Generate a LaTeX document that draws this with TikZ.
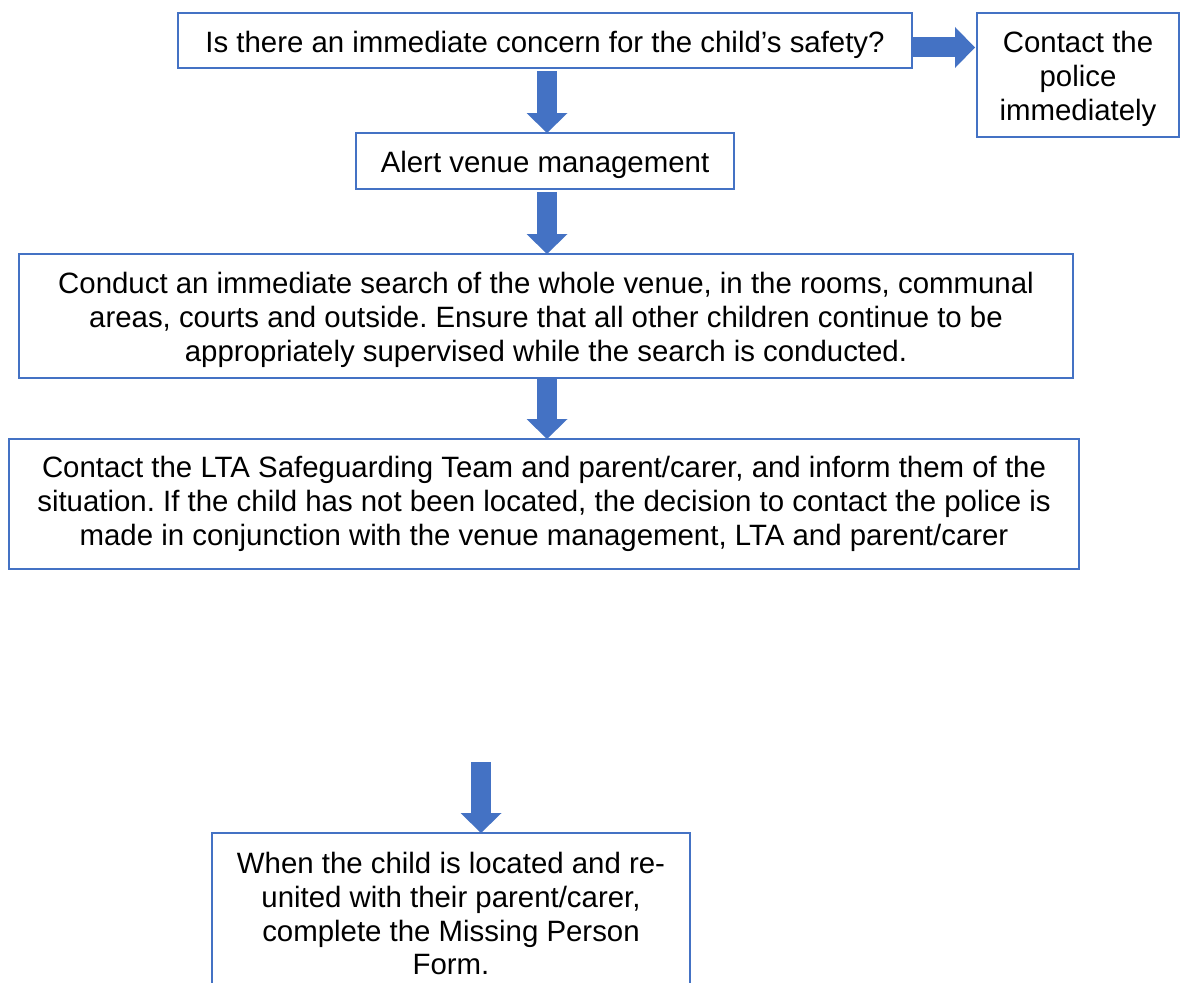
\documentclass[tikz,border=0pt]{standalone}
\usepackage{fontspec}
\setmainfont{Liberation Sans}
\usetikzlibrary{arrows.meta,calc}
\definecolor{obl}{HTML}{4472C4}
\newcommand\tstrut{\rule{0pt}{29.5pt}}
\frenchspacing
\begin{document}
\begin{tikzpicture}[x=1pt,y=-1pt,
  box/.style={draw=obl, line width=2pt, inner sep=0pt, outer sep=0pt,
    align=center, anchor=north west, font=\fontsize{29.4}{33.8}\selectfont},
  barrow/.style={draw=obl, line width=20pt,
    -{Triangle[width=41pt,length=20pt,line width=0pt,fill=obl]}}]
\useasboundingbox (0,0) rectangle (1185,982);
\fill[white] (0,0) rectangle (1185,982);
\clip (0,0) rectangle (1185,982);

\node[box, minimum width=734pt, minimum height=55pt] (b1) at (178,13)
  {\tstrut Is there an immediate concern for the child’s safety?};
\node[box, minimum width=202pt, minimum height=124pt] (police) at (977,13)
  {\tstrut Contact the\\police\\immediately};
\node[box, minimum width=378pt, minimum height=56pt] (b2) at (356,133)
  {\tstrut Alert venue management};
\node[box, minimum width=1054pt, minimum height=124pt] (b3) at (19,254)
  {\tstrut Conduct an immediate search of the whole venue, in the rooms, communal\\
   areas, courts and outside. Ensure that all other children continue to be\\
   appropriately supervised while the search is conducted.};
\node[box, minimum width=1070pt, minimum height=130pt] (b4) at (9,439)
  {Contact the LTA Safeguarding Team and parent/carer, and inform them of the\\
   situation. If the child has not been located, the decision to contact the police is\\
   made in conjunction with the venue management, LTA and parent/carer};
\node[box, anchor=north, minimum width=478pt, inner ysep=11pt] (b5) at (451,833)
  {\tstrut When the child is located and re-\\
   united with their parent/carer,\\
   complete the Missing Person\\
   Form.};

\coordinate (r1) at ($(b1.east)+(0,7)$);
\coordinate (r2) at (r1 -| police.west);
\draw[barrow] (r1) -- ($(r2)+(-2,0)$);

\draw[barrow] ($(b1.south)+(2,3)$) -- ($(b2.north)+(2,0)$);
\draw[barrow] ($(b2.south)+(2,3)$) -- ($(b3.north)+(1,0)$);
\draw[barrow] ($(b3.south)+(1,1)$) -- ($(b4.north)+(3,0)$);

\coordinate (c5) at (481,762);
\draw[barrow] (c5) -- ($(b5.north)+(30,0)$);
\end{tikzpicture}
\end{document}
